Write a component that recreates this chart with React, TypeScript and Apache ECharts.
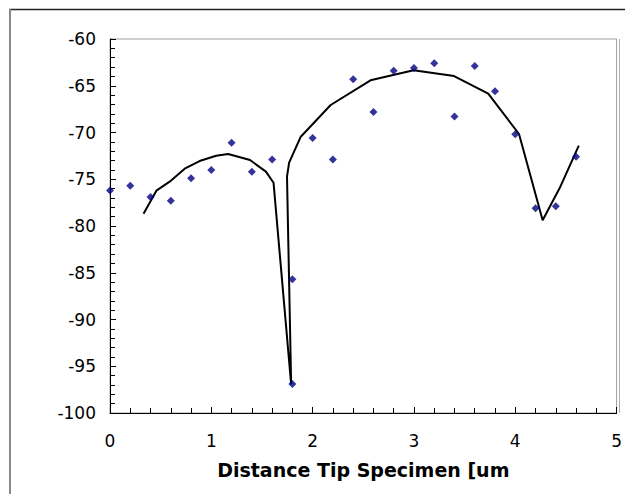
import React, { useEffect, useRef } from "react";
import * as echarts from "echarts";

const pointX = [0, 0.2, 0.4, 0.6, 0.8, 1.0, 1.2, 1.4, 1.6, 1.8, 1.8, 2.0, 2.2, 2.4, 2.6, 2.8, 3.0, 3.2, 3.4, 3.6, 3.8, 4.0, 4.2, 4.4, 4.6];
const pointY = [-76.2, -75.7, -76.9, -77.3, -74.9, -74.0, -71.1, -74.2, -72.9, -85.7, -96.9, -70.6, -72.9, -64.3, -67.8, -63.4, -63.1, -62.6, -68.3, -62.9, -65.6, -70.2, -78.1, -77.9, -72.6];

const fitX = [0.331, 0.458, 0.589, 0.737, 0.884, 1.048, 1.166, 1.382, 1.539, 1.614, 1.788, 1.747, 1.768, 1.883, 2.178, 2.571, 2.996, 3.396, 3.733, 4.037, 4.27, 4.437, 4.627];
const fitY = [-78.68, -76.22, -75.26, -73.87, -73.05, -72.48, -72.3, -72.94, -74.19, -75.37, -96.93, -74.72, -73.23, -70.45, -67.06, -64.42, -63.35, -63.96, -65.85, -70.16, -79.39, -75.97, -71.41];

const xAxisName = "Distance Tip Specimen [um";

export default function App() {
  const ref = useRef<HTMLDivElement>(null);
  useEffect(() => {
    if (!ref.current) return;
    const chart = echarts.init(ref.current, undefined, { renderer: "svg" });
    chart.setOption({
      animation: false,
      backgroundColor: "#ffffff",
      grid: {
        left: 110,
        top: 39,
        right: 6,
        bottom: 81,
        show: true,
        borderColor: "#a0a0a0",
        borderWidth: 1,
        backgroundColor: "transparent",
      },
      xAxis: {
        type: "value",
        min: 0,
        max: 5,
        interval: 1,
        name: xAxisName,
        nameLocation: "middle",
        nameGap: 47,
        nameTextStyle: { fontFamily: "DejaVu Sans", fontWeight: "bold", fontSize: 19, color: "#000" },
        axisLine: { show: true, onZero: false, lineStyle: { color: "#000", width: 1 } },
        axisTick: { show: true, inside: true, length: 6, lineStyle: { color: "#000" } },
        minorTick: { show: true, splitNumber: 5, length: 5, lineStyle: { color: "#000" } },
        splitLine: { show: false },
        axisLabel: { fontFamily: "DejaVu Sans", fontSize: 17, color: "#000", margin: 19 },
      },
      yAxis: {
        type: "value",
        min: -100,
        max: -60,
        interval: 5,
        axisLine: { show: true, onZero: false, lineStyle: { color: "#000", width: 1 } },
        axisTick: { show: true, inside: true, length: 6, lineStyle: { color: "#000" } },
        minorTick: { show: true, splitNumber: 5, length: 5, lineStyle: { color: "#000" } },
        splitLine: { show: false },
        axisLabel: { fontFamily: "DejaVu Sans", fontSize: 17, color: "#000", margin: 14 },
      },
      graphic: [
        { type: "line", shape: { x1: 9, y1: 9.5, x2: 625, y2: 9.5 }, style: { stroke: "#222", lineWidth: 1.5 }, silent: true },
        { type: "line", shape: { x1: 10, y1: 9, x2: 10, y2: 494 }, style: { stroke: "#888", lineWidth: 2 }, silent: true },
        { type: "line", shape: { x1: 619.5, y1: 39, x2: 619.5, y2: 413 }, style: { stroke: "#b0b0b0", lineWidth: 1 }, silent: true },
      ],
      series: [
        {
          type: "line",
          data: fitX.map((x, i) => [x, fitY[i]]),
          showSymbol: false,
          symbol: "none",
          lineStyle: { color: "#000", width: 2 },
          z: 2,
        },
        {
          type: "scatter",
          data: pointX.map((x, i) => [x, pointY[i]]),
          symbol: "diamond",
          symbolSize: 8,
          itemStyle: { color: "#000080" },
          z: 3,
        },
      ],
    });
    return () => chart.dispose();
  }, []);
  return <div ref={ref} style={{ position: "fixed", left: 0, top: 0, width: 625, height: 494 }} />;
}
